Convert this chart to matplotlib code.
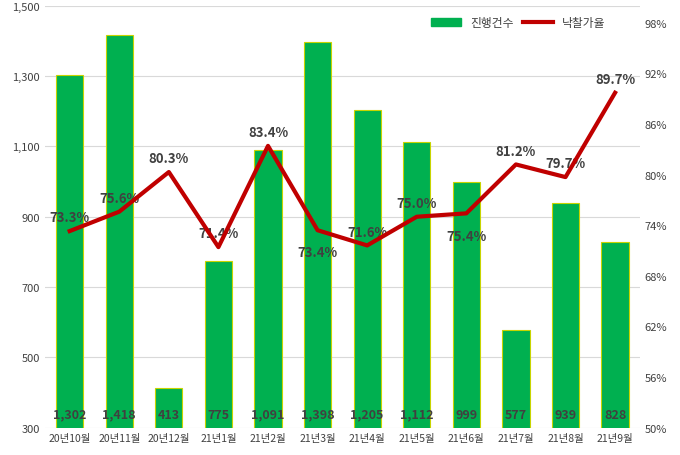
import matplotlib.pyplot as plt
import matplotlib.ticker as mticker

plt.rcParams['font.family'] = 'Noto Sans CJK KR'

months = ['20년10월', '20년11월', '20년12월', '21년1월', '21년2월', '21년3월',
          '21년4월', '21년5월', '21년6월', '21년7월', '21년8월', '21년9월']
counts = [1302, 1418, 413, 775, 1091, 1398, 1205, 1112, 999, 577, 939, 828]
rates = [73.3, 75.6, 80.3, 71.4, 83.4, 73.4, 71.6, 75.0, 75.4, 81.2, 79.7, 89.7]
# label offsets in points (dx, dy)
offs = [(0, 10), (0, 10), (0, 10), (0, 10), (0, 10), (0, -16),
        (0, 10), (0, 10), (0, -16), (0, 10), (0, 10), (0, 10)]

fig = plt.figure(figsize=(6.8, 4.56), dpi=100)
ax = fig.add_axes([0.066, 0.06, 0.875, 0.925])
x = range(len(months))
ax.bar(x, counts, width=0.55, color='#00B050', edgecolor='#C8D400', linewidth=0.8, zorder=2)
ax.set_ylim(300, 1500)
ax.set_yticks(range(300, 1501, 200))
ax.yaxis.set_major_formatter(mticker.FuncFormatter(lambda v, p: f'{int(v):,}'))
ax.grid(axis='y', color='#d9d9d9', linewidth=0.8, zorder=0)
ax.set_xlim(-0.5, len(months) - 0.5)
ax.set_xticks(list(x))
ax.set_xticklabels(months, fontsize=7.5, color='#404040')
ax.tick_params(axis='y', labelsize=8, colors='#404040', length=0)
ax.tick_params(axis='x', length=0)
for s in ax.spines.values():
    s.set_visible(False)
for i, c in enumerate(counts):
    ax.text(i, 320, f'{c:,}', ha='center', va='bottom', fontsize=9,
            fontweight='bold', color='#404040', zorder=3)

ax2 = ax.twinx()
ax2.plot(list(x), rates, color='#C00000', linewidth=3, zorder=4, label='낙찰가율')
ax2.set_ylim(50, 100)
ax2.set_yticks(range(50, 99, 6))
ax2.yaxis.set_major_formatter(mticker.FuncFormatter(lambda v, p: f'{int(v)}%'))
ax2.tick_params(axis='y', labelsize=8, colors='#404040', length=0)
for s in ax2.spines.values():
    s.set_visible(False)
for i, r in enumerate(rates):
    ax2.annotate(f'{r:.1f}%', (i, r), xytext=offs[i], textcoords='offset points',
                 ha='center', va='center', fontsize=9.5, fontweight='bold', color='#404040')

from matplotlib.patches import Patch
from matplotlib.lines import Line2D
ax2.legend([Patch(color='#00B050'), Line2D([0], [0], color='#C00000', lw=3)],
           ['진행건수', '낙찰가율'], loc='upper right', bbox_to_anchor=(0.96, 1.0),
           ncol=2, frameon=False, fontsize=8.5, handlelength=2.5, columnspacing=0.8,
           labelcolor='#404040')
fig.savefig('out.png')
